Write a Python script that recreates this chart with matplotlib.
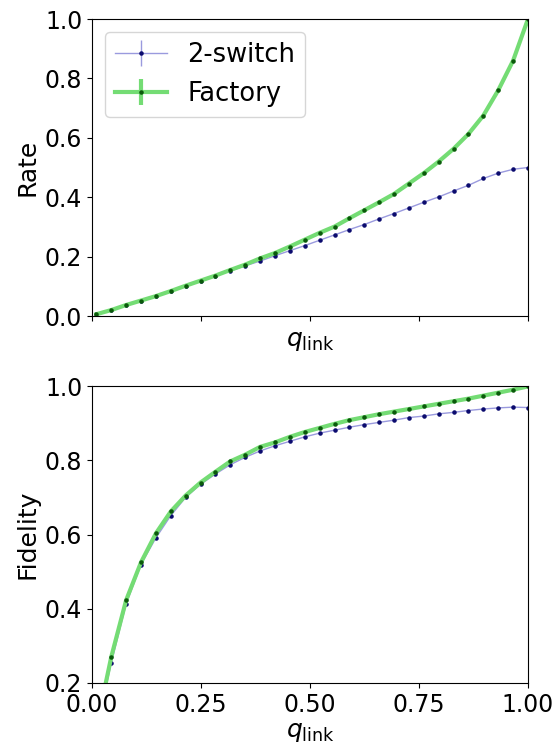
import numpy as np
import matplotlib
matplotlib.use("Agg")
import matplotlib.pyplot as plt

# --------------------------------------------------------------------------
# Data (30 values of q_link from 0.01 to 1)
# --------------------------------------------------------------------------
q_link = np.linspace(0.01, 1.0, 30)

rate_2switch = [0.006, 0.020, 0.037, 0.052, 0.067, 0.084, 0.102, 0.118, 0.135, 0.152,
                0.169, 0.185, 0.203, 0.220, 0.237, 0.255, 0.273, 0.291, 0.308, 0.327,
                0.345, 0.364, 0.383, 0.401, 0.421, 0.440, 0.463, 0.481, 0.494, 0.500]
rate_factory = [0.006, 0.020, 0.037, 0.052, 0.067, 0.084, 0.102, 0.119, 0.136, 0.155,
                0.173, 0.194, 0.212, 0.234, 0.257, 0.280, 0.301, 0.329, 0.356, 0.383,
                0.411, 0.446, 0.481, 0.520, 0.563, 0.613, 0.675, 0.760, 0.860, 1.000]

fid_2switch = [0.07, 0.254, 0.413, 0.519, 0.591, 0.651, 0.700, 0.735, 0.763, 0.788,
               0.808, 0.825, 0.839, 0.851, 0.863, 0.873, 0.881, 0.889, 0.896, 0.902,
               0.908, 0.915, 0.919, 0.925, 0.929, 0.934, 0.938, 0.941, 0.943, 0.942]
fid_factory = [0.08, 0.270, 0.423, 0.525, 0.603, 0.662, 0.705, 0.740, 0.769, 0.797,
               0.815, 0.836, 0.848, 0.863, 0.876, 0.887, 0.898, 0.908, 0.916, 0.924,
               0.931, 0.938, 0.945, 0.952, 0.959, 0.966, 0.974, 0.982, 0.990, 0.999]

err_zero = np.zeros(len(q_link))

LABELS = ["2-switch", "Factory"]
X_TICKS = [0.0, 0.25, 0.5, 0.75, 1.0]

# styles
STY_2S = dict(color="#9a9ade", ecolor="#9a9ade", lw=1.0, marker=".", ms=4.5,
              mfc="#0b0b6e", mec="#0b0b6e")
STY_FAC = dict(color="#74dc74", ecolor="#74dc74", lw=3.0, marker=".", ms=4.5,
               mfc="#0a5a0a", mec="#0a5a0a")

FS_TICK = 17
FS_LABEL = 18
FS_LEG = 18.5

W, H = 560, 751
fig = plt.figure(figsize=(W / 100, H / 100), dpi=100)
ax1 = fig.add_axes([92 / W, 1 - 316 / H, 436 / W, 297 / H])
ax2 = fig.add_axes([92 / W, 1 - 683 / H, 436 / W, 297 / H])

# --- Rate ---
ax1.errorbar(q_link, rate_2switch, yerr=err_zero, label=LABELS[0], **STY_2S)
ax1.errorbar(q_link, rate_factory, yerr=err_zero, label=LABELS[1], **STY_FAC)
ax1.set_xlim(0, 1)
ax1.set_ylim(0, 1)
ax1.set_xticks(X_TICKS)
ax1.set_xticklabels([])
ax1.set_xlabel(r"$q_{\rm link}$", fontsize=FS_LABEL, labelpad=2)
ax1.set_ylabel("Rate", fontsize=FS_LABEL)
ax1.tick_params(labelsize=FS_TICK)
ax1.legend(loc="upper left", fontsize=FS_LEG)

# --- Fidelity ---
ax2.errorbar(q_link, fid_2switch, yerr=err_zero, **STY_2S)
ax2.errorbar(q_link, fid_factory, yerr=err_zero, **STY_FAC)
ax2.set_xlim(0, 1)
ax2.set_ylim(0.2, 1)
ax2.set_xticks(X_TICKS)
ax2.set_yticks([0.2, 0.4, 0.6, 0.8, 1.0])
ax2.set_xlabel(r"$q_{\rm link}$", fontsize=FS_LABEL, labelpad=2)
ax2.set_ylabel("Fidelity", fontsize=FS_LABEL)
ax2.tick_params(labelsize=FS_TICK)

fig.savefig("out.png", dpi=100)
